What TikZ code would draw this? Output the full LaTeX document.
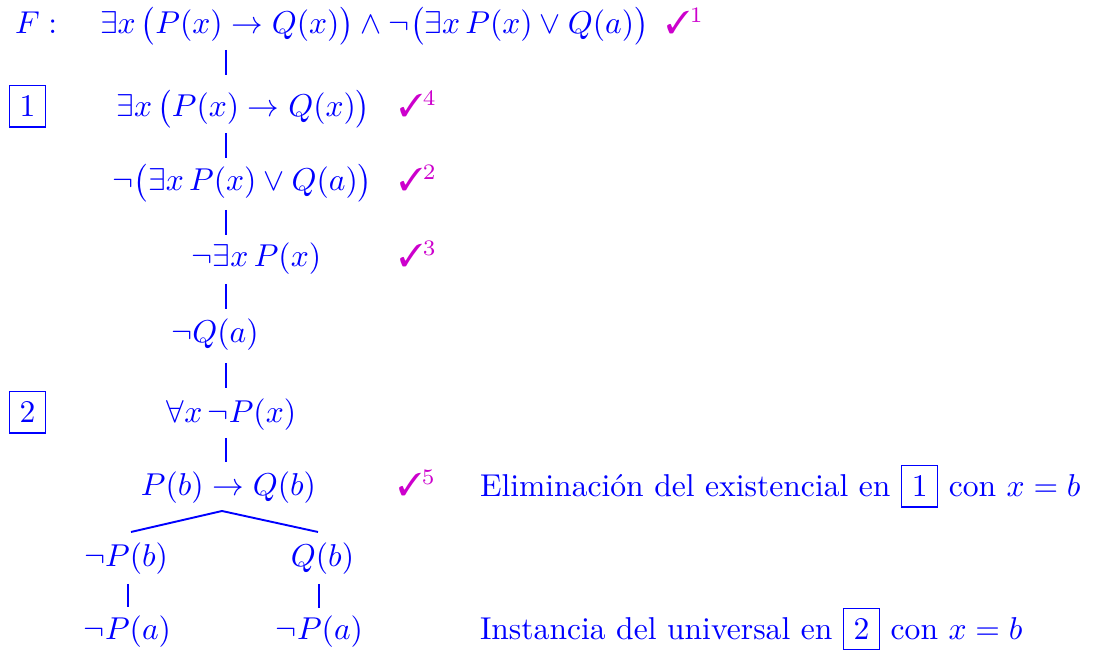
\documentclass[tikz,border=0pt]{standalone}
\usepackage{pifont}
\usepackage{amsmath}
\definecolor{chk}{RGB}{204,0,204}
\begin{document}
\begin{tikzpicture}[x=0.3165pt,y=-0.3165pt,
  every node/.style={inner sep=0pt, outer sep=0pt, text=blue},
  fml/.style={anchor=base},
  fmlw/.style={anchor=base west},
  chkm/.style={anchor=base west, text=chk},
  tline/.style={draw=blue, line width=0.6pt}]
\useasboundingbox (0,0) rectangle (1093,650);
\coordinate (ax) at (226,0);
% rows
\node[fmlw] (lab) at (15,34) {$F:$};
\node[fmlw] (r1) at (100,34) {$\exists x\,\bigl(P(x)\to Q(x)\bigr)\wedge\neg\bigl(\exists x\,P(x)\vee Q(a)\bigr)$};
\node[chkm] (c1) at (666,34) {\ding{51}$^{1}$};

\node[fmlw] (b1) at (9,117) {\color{blue}\fbox{1}};
\node[fml] (r2) at (243.5,117) {$\exists x\,\bigl(P(x)\to Q(x)\bigr)$};
\node[chkm] (c2) at (399,117) {\ding{51}$^{4}$};

\node[fml] (r3) at (242.5,191) {$\neg\bigl(\exists x\,P(x)\vee Q(a)\bigr)$};
\node[chkm] (c3) at (399,191) {\ding{51}$^{2}$};

\node[fml] (r4) at (256.5,267) {$\neg\exists x\,P(x)$};
\node[chkm] (c4) at (399,267) {\ding{51}$^{3}$};

\node[fml] (r5) at (215,343) {$\neg Q(a)$};

\node[fmlw] (b2) at (9,423) {\color{blue}\fbox{2}};
\node[fml] (r6) at (231.5,423) {$\forall x\,\neg P(x)$};

\node[fml] (r7) at (228.5,496) {$P(b)\to Q(b)$};
\node[chkm] (c5) at (398,496) {\ding{51}$^{5}$};
\node[fmlw] (e1) at (480,497) {\color{blue}Eliminación del existencial en \fbox{1} con $x=b$};

\node[fml] (r8a) at (126,567) {$\neg P(b)$};
\node[fml] (r8b) at (322.5,567) {$Q(b)$};

\node[fml] (r9a) at (127.5,640) {$\neg P(a)$};
\node[fml] (r9b) at (319.5,640) {$\neg P(a)$};
\node[fmlw] (e2) at (480,640) {\color{blue}Instancia del universal en \fbox{2} con $x=b$};

% connectors
\draw[tline] (r1.base -| ax) ++(0,16) -- ++(0,25);
\draw[tline] (r2.base -| ax) ++(0,16) -- ++(0,25);
\draw[tline] (r3.base -| ax) ++(0,19) -- ++(0,25);
\draw[tline] (r4.base -| ax) ++(0,17) -- ++(0,25);
\draw[tline] (r5.base -| ax) ++(0,20) -- ++(0,25);
\draw[tline] (r6.base -| ax) ++(0,15) -- ++(0,24);

\coordinate (apex) at (222,511);
\coordinate (bl) at (131,532);
\coordinate (br) at (318,532);
\draw[tline] (bl) -- (apex) -- (br);

\draw[tline] (r8a.base) ++(2,17) -- ++(0,23);
\draw[tline] (r8b.base) ++(-3.5,17) -- ++(0,24);
\end{tikzpicture}
\end{document}
